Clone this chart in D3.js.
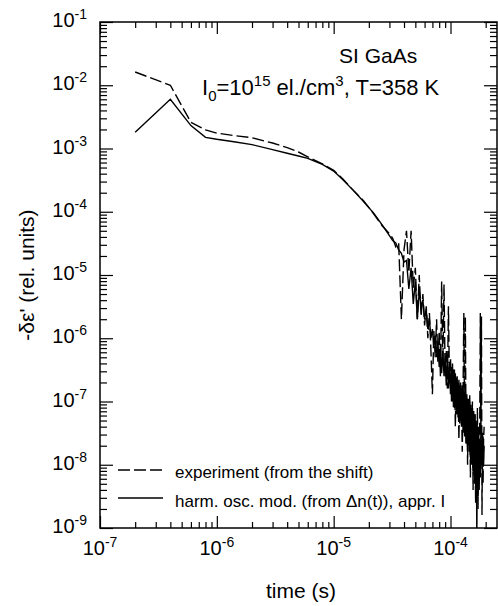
<!DOCTYPE html>
<html><head><meta charset="utf-8">
<script src="https://cdn.jsdelivr.net/npm/d3@7"></script>
<style>body{margin:0;background:#fff}</style>
</head><body><svg id="c" width="498" height="606"></svg>
<script>
// time in seconds
const time = [2e-7,4e-7,6e-7,8e-7,1e-6,1.4e-6,2e-6,3e-6,4e-6,5e-6,6e-6,8e-6,1e-5,1.2e-5,1.5e-5,1.8e-5,2.2e-5,2.6e-5,3e-5,
 3.2e-5,3.4e-5,3.6e-5,3.8e-5,4.0e-5,4.2e-5,4.4e-5,4.6e-5,4.8e-5,5.0e-5,
 5.2e-5,5.4e-5,5.6e-5,5.8e-5,6.0e-5,6.2e-5,6.4e-5,6.6e-5,6.8e-5,7.0e-5,
 7.2e-5,7.4e-5,7.6e-5,7.8e-5,8.0e-5,8.2e-5,8.4e-5,8.6e-5,8.8e-5,9.0e-5,
 9.2e-5,9.4e-5,9.6e-5,9.8e-5,1.00e-4,1.02e-4,1.04e-4,1.06e-4,1.08e-4,1.10e-4,
 1.12e-4,1.14e-4,1.16e-4,1.18e-4,1.20e-4,1.22e-4,1.24e-4,1.26e-4,1.28e-4,1.30e-4,
 1.32e-4,1.34e-4,1.36e-4,1.38e-4,1.40e-4,1.42e-4,1.44e-4,1.46e-4,1.48e-4,1.50e-4,
 1.52e-4,1.54e-4,1.56e-4,1.58e-4,1.60e-4,1.62e-4,1.64e-4,1.66e-4,1.68e-4,1.70e-4,
 1.72e-4,1.74e-4,1.76e-4,1.78e-4,1.80e-4,1.82e-4,1.84e-4,1.86e-4,1.88e-4,1.90e-4,
 1.92e-4,1.94e-4];
// experiment (from the shift) – dashed
const experiment = [1.62e-2,1.0e-2,2.6e-3,1.97e-3,1.75e-3,1.6e-3,1.48e-3,1.22e-3,1.03e-3,8.8e-4,7.4e-4,5.7e-4,4.5e-4,3.3e-4,2.1e-4,1.5e-4,9.3e-5,6.0e-5,4.5e-5,
 3.8e-5,2.8e-5,3.2e-5,2.0e-6,2.5e-5,5.0e-5,1.1e-5,5.0e-5,6.3e-6,1.3e-5,
 2.0e-6,1.0e-5,2.2e-6,5.0e-6,1.6e-6,3.2e-6,1.0e-6,2.5e-6,6.3e-7,1.3e-7,
 1.3e-6,5.0e-7,2.0e-6,4.0e-7,1.3e-6,2.5e-7,7.9e-6,4.0e-7,7.1e-6,2.5e-7,
 6.3e-7,1.6e-7,3.2e-6,2.0e-7,5.0e-7,1.0e-7,4.0e-7,7.9e-8,3.2e-7,4.0e-8,
 2.5e-7,6.3e-8,2.0e-7,2.5e-8,1.8e-7,5.0e-8,1.6e-7,1.6e-8,1.3e-7,2.5e-6,
 3.2e-8,2.2e-6,2.0e-8,1.0e-7,1.0e-8,7.9e-8,2.5e-8,1.3e-7,6.3e-9,6.3e-8,
 1.6e-8,1.0e-7,4.0e-9,5.0e-8,1.3e-8,6.3e-8,2.5e-9,4.0e-8,1.0e-8,7.9e-8,
 2.0e-9,4.0e-8,6.3e-9,5.0e-8,2.5e-6,2.5e-8,2.2e-6,1.6e-9,3.2e-8,5.0e-9,
 2.5e-8,4.0e-8];
// harm. osc. model – solid
const model = [1.8e-3,6.0e-3,2.3e-3,1.5e-3,1.4e-3,1.28e-3,1.15e-3,9.6e-4,8.4e-4,7.6e-4,7.0e-4,5.6e-4,4.4e-4,3.2e-4,2.1e-4,1.45e-4,9.5e-5,6.2e-5,4.2e-5,
 3.5e-5,3.2e-5,2.5e-5,2.2e-5,1.6e-5,1.7e-5,6.0e-6,1.3e-5,3.5e-6,7.9e-6,
 2.0e-6,5.6e-6,3.2e-6,4.0e-6,2.0e-6,2.8e-6,1.4e-6,2.0e-6,1.0e-6,1.4e-6,
 7.1e-7,1.1e-6,5.0e-7,8.9e-7,3.5e-7,7.9e-7,2.8e-7,6.3e-7,2.5e-7,5.0e-7,
 1.8e-7,4.5e-7,1.6e-7,4.0e-7,1.3e-7,3.5e-7,1.0e-7,3.2e-7,7.9e-8,2.8e-7,
 6.3e-8,2.5e-7,5.6e-8,2.2e-7,4.5e-8,2.0e-7,4.0e-8,1.8e-7,3.2e-8,1.6e-7,
 2.8e-8,1.4e-7,2.2e-8,1.3e-7,2.0e-8,1.1e-7,1.6e-8,1.0e-7,1.3e-8,8.9e-8,
 1.0e-8,7.9e-8,7.9e-9,7.1e-8,5.0e-9,6.3e-8,4.0e-9,5.0e-8,6.3e-10,4.0e-8,
 3.2e-9,3.2e-8,4.0e-9,2.5e-8,6.3e-9,2.8e-8,1.0e-8,2.5e-8,1.3e-8,2.8e-8,
 1.0e-8,2.0e-8];
const xTickExponents = [-7,-6,-5,-4];
const yTickExponents = [-1,-2,-3,-4,-5,-6,-7,-8,-9];
const legendLabels = ["experiment (from the shift)", "harm. osc. mod. (from \u0394n(t)), appr. I"];

const svg = d3.select('#c');
const FONT = "'Liberation Sans', Arial, Helvetica, sans-serif";
const L=100, R=497, T=22, B=528;
const x = d3.scaleLog().domain([1e-7, 2.5e-4]).range([L, R]);
const y = d3.scaleLog().domain([1e-9, 1e-1]).range([B, T]);

const majorX = xTickExponents.map(e => Math.pow(10, e));
const majorY = yTickExponents.map(e => Math.pow(10, e));
const minorX = [], minorY = [];
for (let e = -7; e <= -4; e++) for (let k = 2; k <= 9; k++) { const v = k * Math.pow(10, e); if (v <= 2.5e-4) minorX.push(v); }
for (let e = -9; e <= -2; e++) for (let k = 2; k <= 9; k++) minorY.push(k * Math.pow(10, e));

function drawAxis(axis, tr) {
  const g = svg.append('g').attr('transform', tr).call(axis);
  g.select('.domain').remove();
  g.selectAll('text').remove();
  g.selectAll('line').attr('stroke', '#000').attr('stroke-width', 1.2);
}
drawAxis(d3.axisBottom(x).tickValues(majorX).tickSize(-12), `translate(0,${B})`);
drawAxis(d3.axisBottom(x).tickValues(minorX).tickSize(-6), `translate(0,${B})`);
drawAxis(d3.axisTop(x).tickValues(majorX).tickSize(-12), `translate(0,${T})`);
drawAxis(d3.axisTop(x).tickValues(minorX).tickSize(-6), `translate(0,${T})`);
drawAxis(d3.axisLeft(y).tickValues(majorY).tickSize(-13), `translate(${L},0)`);
drawAxis(d3.axisLeft(y).tickValues(minorY).tickSize(-7), `translate(${L},0)`);
drawAxis(d3.axisRight(y).tickValues(majorY).tickSize(-13), `translate(${R},0)`);
drawAxis(d3.axisRight(y).tickValues(minorY).tickSize(-7), `translate(${R},0)`);

svg.append('rect').attr('x', L).attr('y', T).attr('width', R - L).attr('height', B - T)
  .attr('fill', 'none').attr('stroke', '#000').attr('stroke-width', 1.5);

// tick labels
yTickExponents.forEach(e => {
  const t = svg.append('text').attr('x', 87).attr('y', y(Math.pow(10, e)) + 5)
    .attr('text-anchor', 'end').attr('font-family', FONT).attr('font-size', 20);
  t.append('tspan').text('10');
  t.append('tspan').attr('font-size', 14).attr('dy', -8).text(String(e));
});
xTickExponents.forEach(e => {
  const t = svg.append('text').attr('x', x(Math.pow(10, e))).attr('y', 555)
    .attr('text-anchor', 'middle').attr('font-family', FONT).attr('font-size', 20);
  t.append('tspan').text('10');
  t.append('tspan').attr('font-size', 14).attr('dy', -8).text(String(e));
});

// axis titles
svg.append('text').attr('x', 301).attr('y', 598).attr('text-anchor', 'middle')
  .attr('font-family', FONT).attr('font-size', 21).text('time (s)');
svg.append('text').attr('transform', 'translate(34,275) rotate(-90)').attr('text-anchor', 'middle')
  .attr('font-family', FONT).attr('font-size', 21).text("-\u03b4\u03b5' (rel. units)");

// data
svg.append('clipPath').attr('id', 'clip').append('rect').attr('x', L).attr('y', T).attr('width', R - L).attr('height', B - T);
const expData = time.map((t, i) => ({ t, v: experiment[i] }));
const modData = time.map((t, i) => ({ t, v: model[i] }));
const line = d3.line().x(d => x(d.t)).y(d => y(d.v));
const plot = svg.append('g').attr('clip-path', 'url(#clip)');
plot.append('path').datum(expData).attr('d', line).attr('fill', 'none').attr('stroke', '#000')
  .attr('stroke-width', 1.4).attr('stroke-dasharray', '12,4');
plot.append('path').datum(modData).attr('d', line).attr('fill', 'none').attr('stroke', '#000')
  .attr('stroke-width', 1.4);

// annotation
svg.append('text').attr('x', 339).attr('y', 63).attr('font-family', FONT).attr('font-size', 21).text('SI GaAs');
const ann = svg.append('text').attr('x', 202).attr('y', 95).attr('font-family', FONT).attr('font-size', 22);
ann.append('tspan').text('I');
ann.append('tspan').attr('font-size', 15).attr('dy', 6).text('0');
ann.append('tspan').attr('dy', -6).text('=10');
ann.append('tspan').attr('font-size', 15).attr('dy', -9).text('15');
ann.append('tspan').attr('dy', 9).text(' el./cm');
ann.append('tspan').attr('font-size', 15).attr('dy', -9).text('3');
ann.append('tspan').attr('dy', 9).text(', T=358 K');

// legend
const legY = [470, 498];
const legBase = [478, 507];
legendLabels.forEach((lab, i) => {
  svg.append('line').attr('x1', 118).attr('x2', 163).attr('y1', legY[i]).attr('y2', legY[i])
    .attr('stroke', '#000').attr('stroke-width', 1.3).attr('stroke-dasharray', i === 0 ? '12,4' : null);
  svg.append('text').attr('x', 175).attr('y', legBase[i]).attr('font-family', FONT).attr('font-size', 17).text(lab);
});
</script></body></html>
